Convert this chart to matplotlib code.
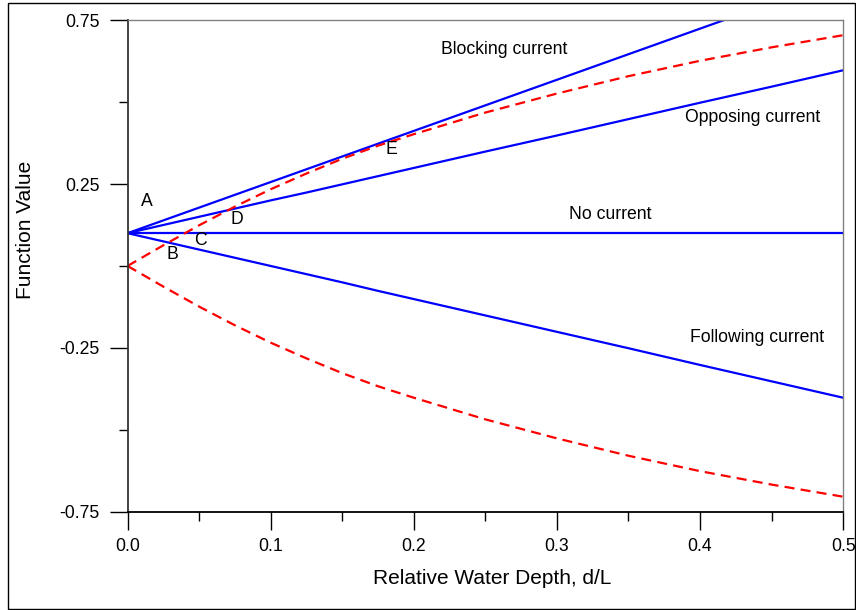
import numpy as np
import matplotlib.pyplot as plt
from matplotlib.patches import Rectangle

plt.rcParams['font.family'] = ['Liberation Sans', 'DejaVu Sans']

# relative water depth d/L
depth = [0.0, 0.025, 0.05, 0.075, 0.1, 0.125, 0.15, 0.175, 0.2,
         0.25, 0.3, 0.35, 0.4, 0.45, 0.5]

# current cases (blue solid)
no_current = [0.1, 0.1, 0.1, 0.1, 0.1, 0.1, 0.1, 0.1, 0.1,
              0.1, 0.1, 0.1, 0.1, 0.1, 0.1]
blocking = [0.1, 0.139, 0.178, 0.217, 0.256, 0.295, 0.334, 0.373, 0.412,
            0.490, 0.568, 0.646, 0.724, 0.802, 0.880]
opposing = [0.1, 0.125, 0.150, 0.175, 0.200, 0.224, 0.249, 0.274, 0.299,
            0.349, 0.398, 0.448, 0.498, 0.547, 0.597]
following = [0.1, 0.075, 0.050, 0.025, 0.0, -0.025, -0.050, -0.076, -0.101,
             -0.151, -0.201, -0.251, -0.302, -0.352, -0.402]

# reference curves (red dashed)
upper_ref = [0.0, 0.063, 0.124, 0.181, 0.234, 0.282, 0.327, 0.367, 0.402,
             0.468, 0.526, 0.579, 0.626, 0.667, 0.704]
lower_ref = [0.0, -0.063, -0.124, -0.181, -0.234, -0.282, -0.327, -0.367, -0.402,
             -0.468, -0.526, -0.579, -0.626, -0.667, -0.704]

curve_labels = [("Blocking current", 0.263, 0.661),
                ("Opposing current", 0.437, 0.454),
                ("No current", 0.337, 0.158),
                ("Following current", 0.44, -0.217)]
point_labels = [("A", 0.0136, 0.198), ("B", 0.031, 0.036), ("C", 0.0507, 0.079),
                ("D", 0.0765, 0.143), ("E", 0.184, 0.356)]

fig = plt.figure(figsize=(8.56, 6.1), dpi=100)
ax = fig.add_axes([0.149, 0.161, 0.836, 0.806])

blue = '#0000ff'
red = '#ff0000'
dash = (0, (4.5, 2.8))
lw = 1.6
ax.plot(depth, no_current, color=blue, lw=lw)
ax.plot(depth, blocking, color=blue, lw=lw)
ax.plot(depth, opposing, color=blue, lw=lw)
ax.plot(depth, following, color=blue, lw=lw)
ax.plot(depth, upper_ref, color=red, lw=lw, linestyle=dash)
ax.plot(depth, lower_ref, color=red, lw=lw, linestyle=dash)

for txt, x, y in curve_labels + point_labels:
    ax.text(x, y, txt, fontsize=12.7, ha='center', va='center')

ax.set_xlim(0, 0.5)
ax.set_ylim(-0.75, 0.75)
ax.set_xticks([0.0, 0.1, 0.2, 0.3, 0.4, 0.5])
ax.set_xticklabels(['0.0', '0.1', '0.2', '0.3', '0.4', '0.5'])
ax.set_xticks(np.arange(0.05, 0.5, 0.1), minor=True)
ax.set_yticks([-0.75, -0.25, 0.25, 0.75])
ax.set_yticklabels(['-0.75', '-0.25', '0.25', '0.75'])
ax.set_yticks([-0.5, 0.0, 0.5], minor=True)
ax.tick_params(which='major', direction='out', length=13, width=1, labelsize=12.7, pad=6)
ax.tick_params(which='minor', direction='out', length=6.5, width=1)
ax.tick_params(axis='y', which='major', pad=7)

ax.spines['left'].set_color('#333333')
ax.spines['left'].set_linewidth(1.3)
ax.spines['bottom'].set_color('black')
ax.spines['bottom'].set_linewidth(1.3)
for side in ('top', 'right'):
    ax.spines[side].set_color('#808080')
    ax.spines[side].set_linewidth(1.0)

ax.set_xlabel('Relative Water Depth, d/L', fontsize=15)
ax.set_ylabel('Function Value', fontsize=15)
ax.xaxis.set_label_coords(0.509, -0.116)
ax.yaxis.set_label_coords(-0.129, 0.573)

# outer frame around the whole figure
fig.patches.append(Rectangle((8 / 856, 0.0015), 1 - 8 / 856 - 0.0012, 1 - 0.0015 - 2.7 / 610,
                             transform=fig.transFigure, fill=False,
                             edgecolor='black', lw=1.0))

fig.savefig('out.png', dpi=100)
